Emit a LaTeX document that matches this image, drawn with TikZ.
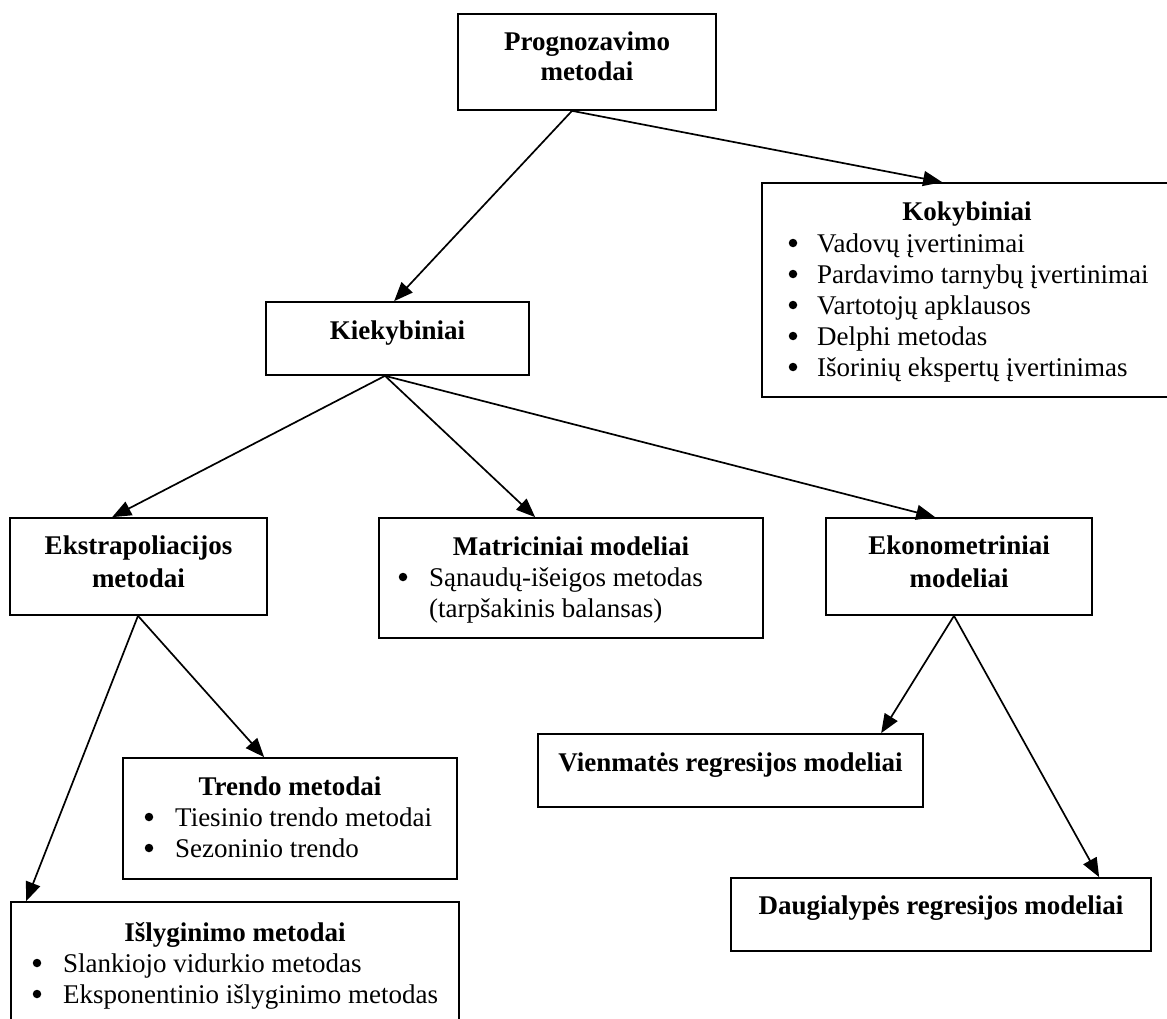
\documentclass[tikz,border=0pt]{standalone}
\usepackage{fontspec}
\setmainfont{Liberation Serif}
\usetikzlibrary{calc,arrows.meta}
\newcommand\diagfont{\fontsize{27pt}{31pt}\selectfont}
\begin{document}
\begin{tikzpicture}[x=1pt,y=-1pt,
  frame/.style={draw, line width=1.7pt, inner sep=0pt},
  head/.style={font=\diagfont\bfseries, anchor=base, inner sep=0pt},
  item/.style={font=\diagfont, anchor=base west, inner sep=0pt},
  dot/.style={circle, fill, inner sep=0pt, minimum size=8.5pt},
  link/.style={line width=1.7pt, -{Triangle[length=19pt,width=15pt]}}]
\useasboundingbox (0,0) rectangle (1167,1019);
\clip (0,0) rectangle (1167,1019);

% boxes
\node[frame, minimum width=258pt, minimum height=96pt]  (prog)   at (587,62) {};
\node[frame, minimum width=410pt, minimum height=214pt] (kok)    at (967,290) {};
\node[frame, minimum width=263pt, minimum height=73pt]  (kiek)   at (397.5,338.5) {};
\node[frame, minimum width=257pt, minimum height=97pt]  (ekstra) at (138.5,566.5) {};
\node[frame, minimum width=384pt, minimum height=120pt] (matr)   at (571,578) {};
\node[frame, minimum width=266pt, minimum height=97pt]  (ekon)   at (959,566.5) {};
\node[frame, minimum width=334pt, minimum height=121pt] (trend)  at (290,818.5) {};
\node[frame, minimum width=385pt, minimum height=73pt]  (vien)   at (730.5,770.5) {};
\node[frame, minimum width=420pt, minimum height=73pt]  (daug)   at (941,914.5) {};
\node[frame, minimum width=448pt, minimum height=121pt] (isl)    at (235,962.5) {};

% texts (bullets sit about 9pt above each baseline)
\node[head] (progA) at (587,51) {Prognozavimo};
\node[head] (progB) at (587,81) {metodai};

\node[head] (kokT) at (967,221) {Kokybiniai};
\foreach \t [count=\i] in {Vadovų įvertinimai, Pardavimo tarnybų įvertinimai,
    Vartotojų apklausos, Delphi metodas, Išorinių ekspertų įvertinimas}{
  \node[dot]  (kokD\i) at (793,{212+31*\i}) {};
  \node[item] (kokI\i) at (817,{221+31*\i}) {\t};
}

\node[head] (kiekT) at (397.5,339) {Kiekybiniai};

\node[head] (ekstraA) at (138.5,554) {Ekstrapoliacijos};
\node[head] (ekstraB) at (138.5,587) {metodai};

\node[head] (matrT) at (571,555) {Matriciniai modeliai};
\node[dot]  (matrD) at (403,577) {};
\node[item] (matrI) at (429,586) {Sąnaudų-išeigos metodas};
\node[item] (matrJ) at (429,617) {(tarpšakinis balansas)};

\node[head] (ekonA) at (959,554) {Ekonometriniai};
\node[head] (ekonB) at (959,587) {modeliai};

\node[head] (trendT) at (290,795) {Trendo metodai};
\node[dot]  (trendD1) at (149,817) {};
\node[item] (trendI1) at (175,826) {Tiesinio trendo metodai};
\node[dot]  (trendD2) at (149,848) {};
\node[item] (trendI2) at (175,857) {Sezoninio trendo};

\node[head] (vienT) at (730.5,771) {Vienmatės regresijos modeliai};
\node[head] (daugT) at (941,914) {Daugialypės regresijos modeliai};

\node[head] (islT) at (235,941) {Išlyginimo metodai};
\node[dot]  (islD1) at (37,963) {};
\node[item] (islI1) at (63,972) {Slankiojo vidurkio metodas};
\node[dot]  (islD2) at (37,994) {};
\node[item] (islI2) at (63,1003) {Eksponentinio išlyginimo metodas};

% connectors
\coordinate (progJ)   at ($(prog.south)+(-15,0)$);
\coordinate (kiekJ)   at ($(kiek.south)+(-12.5,0)$);
\coordinate (ekstraJ) at ($(ekstra.south)+(-0.5,0)$);
\coordinate (ekonJ)   at ($(ekon.south)+(-5,0)$);

\draw[link] (progJ) -- ($(kiek.north west)+(129,0)$);
\draw[link] (progJ) -- ($(kok.north west)+(181,0)$);
\draw[link] (kiekJ) -- ($(ekstra.north west)+(103,0)$);
\draw[link] (kiekJ) -- ($(matr.north west)+(157,0)$);
\draw[link] (kiekJ) -- ($(ekon.north west)+(110,0)$);
\draw[link] (ekstraJ) -- ($(trend.north west)+(142,0)$);
\draw[link] (ekstraJ) -- ($(isl.north west)+(16,0)$);
\draw[link] (ekonJ) -- ($(vien.north west)+(344,0)$);
\draw[link] (ekonJ) -- ($(daug.north west)+(369,0)$);
\end{tikzpicture}
\end{document}
